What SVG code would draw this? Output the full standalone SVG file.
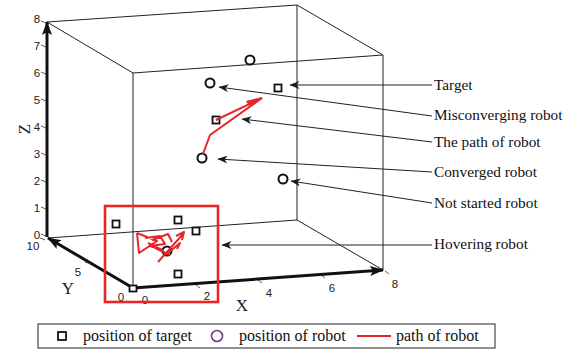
<svg xmlns="http://www.w3.org/2000/svg" width="579" height="356" viewBox="0 0 579 356">
<defs>
<marker id="lead" viewBox="0 0 10 8" refX="0.5" refY="4" markerWidth="10" markerHeight="8" markerUnits="userSpaceOnUse" orient="auto">
<path d="M0,4 L10,0 L7,4 L10,8 Z" fill="#1a1a1a"/>
</marker>
<marker id="axarrow" viewBox="0 0 14 10" refX="13" refY="5" markerWidth="14" markerHeight="10" markerUnits="userSpaceOnUse" orient="auto">
<path d="M14,5 L0,0 L3,5 L0,10 Z" fill="#111"/>
</marker>
</defs>
<style>
.edge{stroke:#222;stroke-width:1;fill:none}
.axis{stroke:#111;stroke-width:3;fill:none}
.tick{stroke:#333;stroke-width:0.8;fill:none}
.num{font-family:"Liberation Sans",Arial,sans-serif;font-size:11.5px;fill:#222}
.axl{font-family:"Liberation Serif","Times New Roman",serif;font-size:17px;fill:#222}
.lbl{font-family:"Liberation Serif","Times New Roman",serif;font-size:15.3px;fill:#111}
.leg{font-family:"Liberation Serif","Times New Roman",serif;font-size:16px;fill:#111}
.lead{stroke:#222;stroke-width:1;fill:none;marker-start:url(#lead)}
.tgt{fill:#fff;stroke:#111;stroke-width:1.8}
.rob{fill:none;stroke:#111;stroke-width:2}
.path{stroke:#e8262a;stroke-width:2;fill:none;stroke-linejoin:round}
</style>
<rect width="579" height="356" fill="#fff"/>

<g id="box">
<line class="edge" x1="47" y1="22" x2="297" y2="5"/>
<line class="edge" x1="297" y1="5" x2="383" y2="55"/>
<line class="edge" x1="297" y1="5" x2="297" y2="220"/>
<line class="edge" x1="383" y1="55" x2="383" y2="270"/>
<line class="edge" x1="47" y1="22" x2="133" y2="73"/>
<line class="edge" x1="133" y1="73" x2="383" y2="55"/>
<line class="edge" x1="133" y1="73" x2="133" y2="288"/>
<line class="edge" x1="48" y1="238" x2="297" y2="220"/>
<line class="edge" x1="297" y1="220" x2="383" y2="270"/>
</g>

<g id="axes">
<line class="axis" x1="47" y1="237" x2="47" y2="22" marker-end="url(#axarrow)"/>
<line class="axis" x1="133" y1="288" x2="48" y2="238" marker-end="url(#axarrow)"/>
<line class="axis" x1="133" y1="288" x2="383" y2="270" marker-end="url(#axarrow)"/>
<g class="tick">
<path d="M41,21 L46,23 M41,45 L46,47 M41,72 L46,74 M41,99 L46,101 M41,126 L46,128 M41,153 L46,155 M41,180 L46,182 M41,207 L46,209 M41,234 L46,236"/>
<path d="M85,262 L91,264 M40,238 L45,240"/>
<path d="M196,285 L200,288 M258,280 L262,283 M321,275 L325,278 M385,271 L389,274"/>
</g>
<text class="num" x="37" y="23" text-anchor="middle">8</text>
<text class="num" x="37" y="50" text-anchor="middle">7</text>
<text class="num" x="37" y="77" text-anchor="middle">6</text>
<text class="num" x="37" y="104" text-anchor="middle">5</text>
<text class="num" x="37" y="131" text-anchor="middle">4</text>
<text class="num" x="37" y="158" text-anchor="middle">3</text>
<text class="num" x="37" y="185" text-anchor="middle">2</text>
<text class="num" x="37" y="212" text-anchor="middle">1</text>
<text class="num" x="37" y="239" text-anchor="middle">0</text>
<text class="num" x="33" y="250" text-anchor="middle">10</text>
<text class="num" x="78" y="276" text-anchor="middle">5</text>
<text class="num" x="121" y="301" text-anchor="middle">0</text>
<text class="num" x="145" y="304" text-anchor="middle">0</text>
<text class="num" x="207" y="300" text-anchor="middle">2</text>
<text class="num" x="269" y="297" text-anchor="middle">4</text>
<text class="num" x="332" y="292" text-anchor="middle">6</text>
<text class="num" x="395" y="288" text-anchor="middle">8</text>
<text class="axl" x="68" y="294" text-anchor="middle">Y</text>
<text class="axl" x="242" y="311" text-anchor="middle">X</text>
<text class="axl" transform="translate(30,129) rotate(-90)" text-anchor="middle">Z</text>
</g>

<g id="hover-box">
<rect x="105" y="206" width="113" height="96" fill="none" stroke="#e8262a" stroke-width="2.6"/>
</g>

<g id="markers">
<circle class="rob" cx="250" cy="60" r="4.5"/>
<circle class="rob" cx="210" cy="83" r="4.5"/>
<rect class="tgt" x="274.5" y="84.5" width="7" height="7"/>
<rect class="tgt" x="212.5" y="116.5" width="7" height="7"/>
<circle class="rob" cx="202" cy="158" r="4.5"/>
<circle class="rob" cx="283" cy="179" r="4.5"/>
<rect class="tgt" x="112.5" y="220.5" width="7" height="7"/>
<rect class="tgt" x="174.5" y="216.5" width="7" height="7"/>
<rect class="tgt" x="192.5" y="227.5" width="7" height="7"/>
<rect class="tgt" x="174.5" y="270.5" width="7" height="7"/>
<rect class="tgt" x="129.5" y="285.5" width="7" height="6"/>
<circle class="rob" cx="167" cy="251" r="4.5"/>
</g>

<g id="robot-paths">
<polyline class="path" points="203,154 210,135 262,98"/>
<line class="path" x1="216" y1="120" x2="262" y2="98"/>
<path d="M262,97 L246,101 L249,106 Z" fill="#e8262a"/>
<path class="path" stroke-width="1.5" d="M137,233 L157,241 L139,253 L137,233 M145,238 L160,236 L165,244 L150,246 L162,250 L148,243 M152,240 L168,234 L172,242 M155,248 L170,255 M158,262 L183,234 M176,236 L184,232 L182,240 M168,253 L180,243 L177,249"/>
</g>

<g id="connectors">
<line class="lead" x1="290" y1="85" x2="432" y2="85"/>
<line class="lead" x1="219" y1="87" x2="432" y2="116"/>
<line class="lead" x1="242" y1="119" x2="432" y2="142"/>
<line class="lead" x1="218" y1="159" x2="432" y2="172"/>
<line class="lead" x1="291" y1="181" x2="432" y2="203"/>
<line class="lead" x1="222" y1="245" x2="432" y2="245"/>
</g>

<g id="labels">
<text class="lbl" x="434" y="90">Target</text>
<text class="lbl" x="434" y="120">Misconverging robot</text>
<text class="lbl" x="434" y="147">The path of robot</text>
<text class="lbl" x="434" y="177">Converged robot</text>
<text class="lbl" x="434" y="208">Not started robot</text>
<text class="lbl" x="434" y="249">Hovering robot</text>
</g>

<g id="legend">
<rect x="38" y="324" width="457" height="24" fill="#fff" stroke="#222" stroke-width="1"/>
<rect x="58" y="332" width="8" height="8" fill="none" stroke="#111" stroke-width="1.8"/>
<text class="leg" x="83" y="341">position of target</text>
<circle cx="217" cy="336" r="5.5" fill="none" stroke="#7e2f8e" stroke-width="1.6"/>
<text class="leg" x="239" y="341">position of robot</text>
<line x1="357" y1="336" x2="391" y2="336" stroke="#e8262a" stroke-width="1.8"/>
<text class="leg" x="396" y="341">path of robot</text>
</g>
</svg>
